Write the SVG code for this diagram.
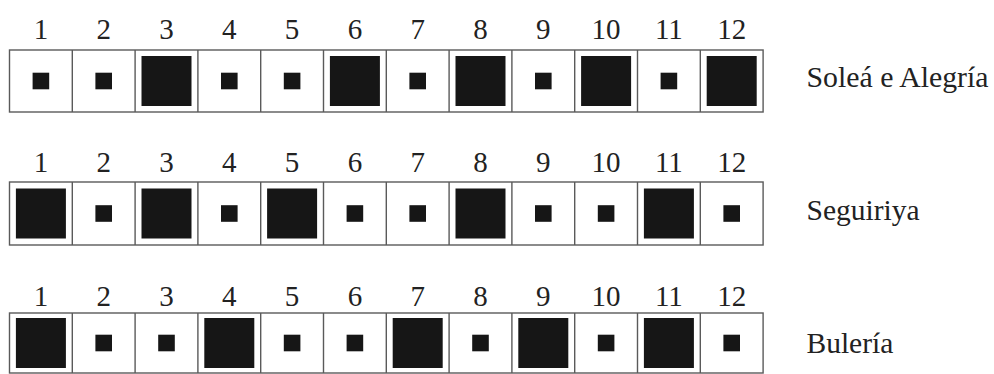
<svg xmlns="http://www.w3.org/2000/svg" xmlns:xlink="http://www.w3.org/1999/xlink" width="994" height="374" viewBox="0 0 994 374">
<style>
.frame{fill:#fff;stroke:#5a5a5a;stroke-width:1.4}
.div{stroke:#5a5a5a;stroke-width:1.4}
.mark{fill:#161616}
.num{font-family:'Liberation Serif','Times New Roman',Times,serif;font-size:29px;fill:#222;text-anchor:middle}
.lbl{font-family:'Liberation Serif','Times New Roman',Times,serif;font-size:29.5px;fill:#222}
</style>
<defs>
<rect id="s" class="mark" x="-8.3" y="-8.3" width="16.6" height="16.6"/>
<rect id="b" class="mark" x="-25" y="-25" width="50" height="50"/>
<g id="nums" class="num">
<text x="40.9">1</text><text x="103.7">2</text><text x="166.5">3</text><text x="229.3">4</text><text x="292.1">5</text><text x="354.9">6</text><text x="417.7">7</text><text x="480.5">8</text><text x="543.3">9</text><text x="606.1">10</text><text x="668.9">11</text><text x="731.7">12</text>
</g>
</defs>
<g id="connectors"></g>

<g id="row-solea">
<use xlink:href="#nums" y="39"/>
<rect class="frame" x="9.5" y="50" width="753.6" height="62"/>
<path class="div" d="M72.3 50V112M135.1 50V112M197.9 50V112M260.7 50V112M323.5 50V112M386.3 50V112M449.1 50V112M511.9 50V112M574.7 50V112M637.5 50V112M700.3 50V112"/>
<use xlink:href="#s" x="40.9" y="81"/>
<use xlink:href="#s" x="103.7" y="81"/>
<use xlink:href="#b" x="166.5" y="81"/>
<use xlink:href="#s" x="229.3" y="81"/>
<use xlink:href="#s" x="292.1" y="81"/>
<use xlink:href="#b" x="354.9" y="81"/>
<use xlink:href="#s" x="417.7" y="81"/>
<use xlink:href="#b" x="480.5" y="81"/>
<use xlink:href="#s" x="543.3" y="81"/>
<use xlink:href="#b" x="606.1" y="81"/>
<use xlink:href="#s" x="668.9" y="81"/>
<use xlink:href="#b" x="731.7" y="81"/>
<text class="lbl" x="806.5" y="87" textLength="182" lengthAdjust="spacingAndGlyphs">Soleá e Alegría</text>
</g>

<g id="row-seguiriya">
<use xlink:href="#nums" y="172"/>
<rect class="frame" x="9.5" y="182" width="753.6" height="63"/>
<path class="div" d="M72.3 182V245M135.1 182V245M197.9 182V245M260.7 182V245M323.5 182V245M386.3 182V245M449.1 182V245M511.9 182V245M574.7 182V245M637.5 182V245M700.3 182V245"/>
<use xlink:href="#b" x="40.9" y="213.5"/>
<use xlink:href="#s" x="103.7" y="213.5"/>
<use xlink:href="#b" x="166.5" y="213.5"/>
<use xlink:href="#s" x="229.3" y="213.5"/>
<use xlink:href="#b" x="292.1" y="213.5"/>
<use xlink:href="#s" x="354.9" y="213.5"/>
<use xlink:href="#s" x="417.7" y="213.5"/>
<use xlink:href="#b" x="480.5" y="213.5"/>
<use xlink:href="#s" x="543.3" y="213.5"/>
<use xlink:href="#s" x="606.1" y="213.5"/>
<use xlink:href="#b" x="668.9" y="213.5"/>
<use xlink:href="#s" x="731.7" y="213.5"/>
<text class="lbl" x="806.5" y="220">Seguiriya</text>
</g>

<g id="row-buleria">
<use xlink:href="#nums" y="306"/>
<rect class="frame" x="9.5" y="313" width="753.6" height="60"/>
<path class="div" d="M72.3 313V373M135.1 313V373M197.9 313V373M260.7 313V373M323.5 313V373M386.3 313V373M449.1 313V373M511.9 313V373M574.7 313V373M637.5 313V373M700.3 313V373"/>
<use xlink:href="#b" x="40.9" y="343"/>
<use xlink:href="#s" x="103.7" y="343"/>
<use xlink:href="#s" x="166.5" y="343"/>
<use xlink:href="#b" x="229.3" y="343"/>
<use xlink:href="#s" x="292.1" y="343"/>
<use xlink:href="#s" x="354.9" y="343"/>
<use xlink:href="#b" x="417.7" y="343"/>
<use xlink:href="#s" x="480.5" y="343"/>
<use xlink:href="#b" x="543.3" y="343"/>
<use xlink:href="#s" x="606.1" y="343"/>
<use xlink:href="#b" x="668.9" y="343"/>
<use xlink:href="#s" x="731.7" y="343"/>
<text class="lbl" x="806.5" y="353">Bulería</text>
</g>
</svg>
